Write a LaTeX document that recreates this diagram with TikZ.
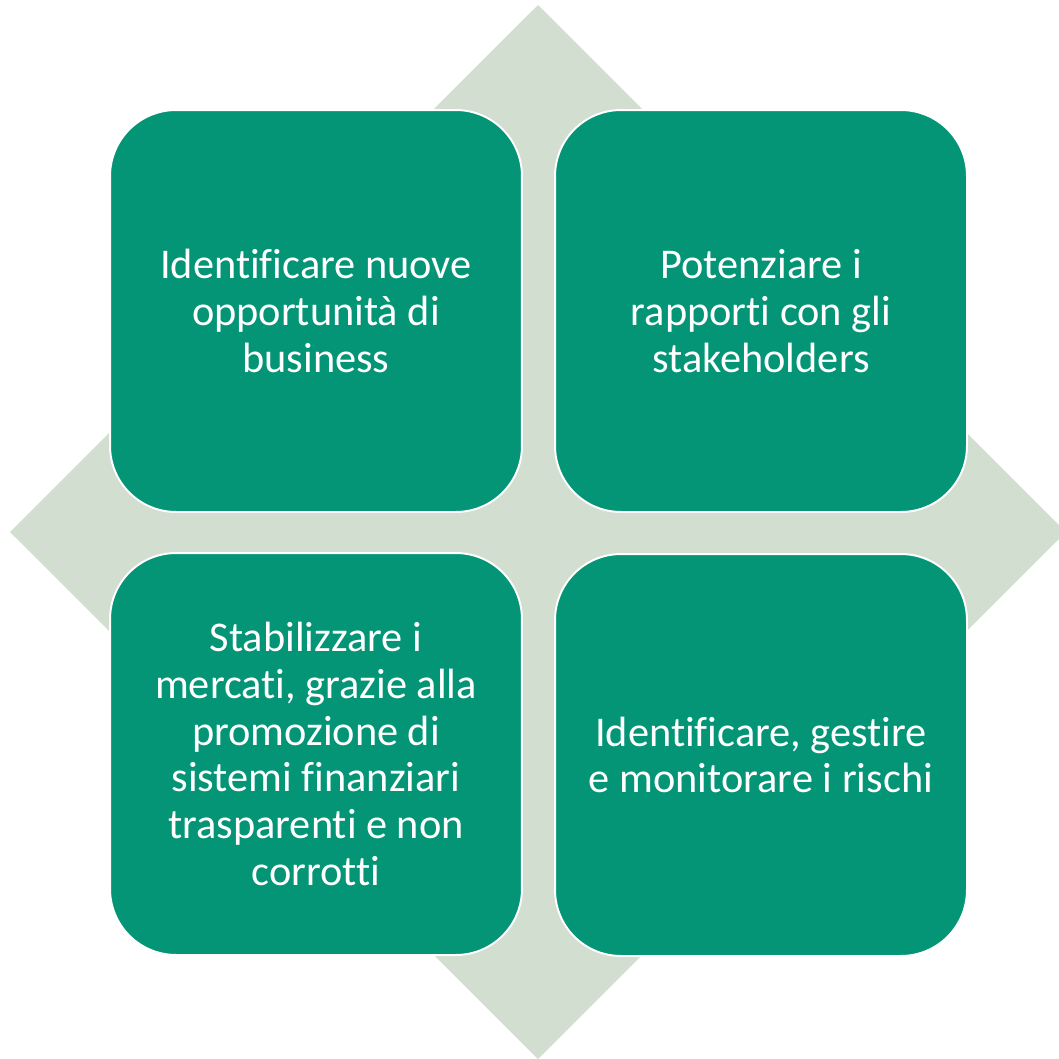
\documentclass[tikz,border=0pt]{standalone}
\usepackage{fontspec}
\setmainfont[Ligatures=NoCommon]{Carlito}
\usepackage{xcolor}
\definecolor{boxgreen}{HTML}{039576}
\definecolor{diamondgreen}{HTML}{D2DFD0}

\tikzset{
  cell/.style={rectangle, draw=white, line width=1.1pt, fill=boxgreen,
    rounded corners=1.32cm, minimum width=8.24cm, minimum height=8.04cm,
    text=white, align=center, font=\fontsize{24.1}{26.6}\selectfont}
}

\begin{document}
\begin{tikzpicture}[x=0.02cm,y=-0.02cm]
          \useasboundingbox (0,0) rectangle (1059,1059);
          \clip (0,0) rectangle (1059,1059);

          \fill[diamondgreen] (538,5) -- (1066,532) -- (538,1059) -- (10,532) -- cycle;

          \node[cell] (opp) at (316,311) {Identificare nuove\\opportunità di\\business};
          \node[cell] (stake) at (761,311) {Potenziare i\\rapporti con gli\\stakeholders};
          \node[cell] (mercati) at (316,754) {Stabilizzare i\\mercati, grazie alla\\promozione di\\sistemi finanziari\\trasparenti e non\\corrotti};
          \node[cell] (rischi) at (761,755) {Identificare, gestire\\e monitorare i rischi};
        \end{tikzpicture}
\end{document}
